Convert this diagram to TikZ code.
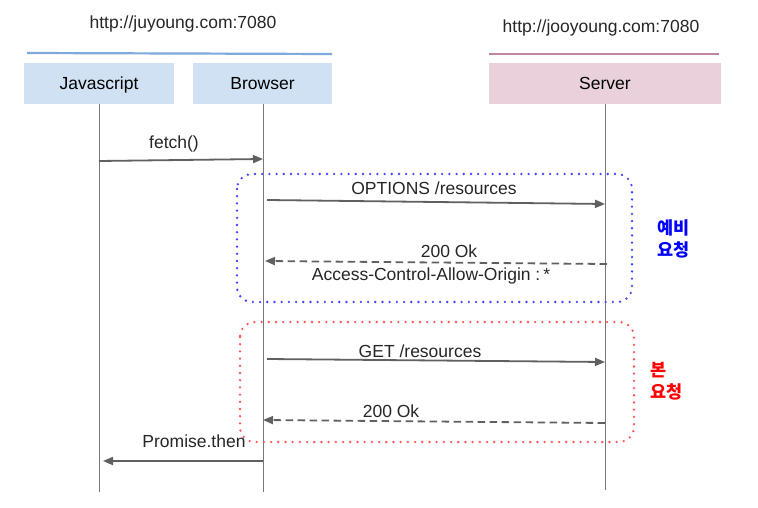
\documentclass[tikz,border=0pt]{standalone}
\usepackage{fontspec}
\setmainfont{Liberation Sans}
\newfontfamily\krfont{Noto Sans CJK KR}
\usetikzlibrary{arrows.meta}
\definecolor{hdrblue}{HTML}{CFE1F2}
\definecolor{hdrpink}{HTML}{E9D0DB}
\definecolor{lineblue}{HTML}{7EA9DC}
\definecolor{linepink}{HTML}{C183A6}
\definecolor{arr}{HTML}{606060}
\definecolor{dotblue}{HTML}{4444FF}
\definecolor{dotred}{HTML}{FF5555}
\tikzset{
  hdr/.style={inner sep=0pt, minimum height=41pt, text height=12.6pt, text depth=0pt, font=\fontsize{17.5}{20}\selectfont},
  lbl/.style={inner sep=0pt, anchor=base, font=\fontsize{17.5}{20}\selectfont, text=black!85},
  life/.style={draw=arr!85, line width=1pt},
  msg/.style={draw=arr, line width=1.8pt, -{Triangle[length=10pt,width=8pt]}},
  reply/.style={msg, dash pattern=on 7.5pt off 4.5pt},
  grp/.style={line width=2.6pt, rounded corners=15pt, dash pattern=on 0pt off 7.2pt, line cap=round},
  kr/.style={inner sep=0pt, anchor=west, align=left, font=\krfont\bfseries\fontsize{17.5}{22}\selectfont}
}
\begin{document}
\begin{tikzpicture}[x=1pt,y=-1pt]
\useasboundingbox (0,0) rectangle (758,508);
% origin labels and lines
\node[lbl] (o1) at (183,29) {http://juyoung.com:7080};
\node[lbl] (o2) at (601,33) {http://jooyoung.com:7080};
\coordinate (b1) at (27,53);
\coordinate (b2) at (332,54);
\draw[draw=lineblue, line width=2.2pt] (b1) -- (b2);
\coordinate (p1) at (489,54);
\coordinate (p2) at (719,54);
\draw[draw=linepink, line width=2.2pt] (p1) -- (p2);
% headers
\node[hdr, fill=hdrblue, minimum width=150pt] (js) at (99,83.5) {Javascript};
\node[hdr, fill=hdrblue, minimum width=139pt] (br) at (262.5,83.5) {Browser};
\node[hdr, fill=hdrpink, minimum width=232pt] (sv) at (605,83.5) {Server};
% lifelines
\coordinate (jsend) at (99,492);
\coordinate (brend) at (263,492);
\coordinate (svend) at (605,490);
\draw[life] (js.south) -- (jsend);
\draw[life] ([xshift=0.5pt]br.south) -- (brend);
\draw[life] (sv.south) -- (svend);
% groups
\draw[grp, draw=dotblue] (237,174) rectangle (632,302);
\draw[grp, draw=dotred] (240,322) rectangle (634,442);
% messages
\coordinate (m1a) at (99,161); \coordinate (m1b) at (263,159);
\draw[msg] (m1a) -- (m1b);
\node[lbl] (t1) at (174,149) {fetch()};
\coordinate (m2a) at (267,200); \coordinate (m2b) at (605,204);
\draw[msg] (m2a) -- (m2b);
\node[lbl] (t2) at (434,194) {OPTIONS /resources};
\coordinate (m3a) at (607,264); \coordinate (m3b) at (265,261);
\draw[reply] (m3a) -- (m3b);
\node[lbl] (t3) at (449,257) {200 Ok};
\node[lbl] (t3b) at (431,280) {Access-Control-Allow-Origin :\,*};
\coordinate (m4a) at (267,359); \coordinate (m4b) at (605,362);
\draw[msg] (m4a) -- (m4b);
\node[lbl] (t4) at (420,357) {GET /resources};
\coordinate (m5a) at (605,423); \coordinate (m5b) at (263,420);
\draw[reply] (m5a) -- (m5b);
\node[lbl] (t5) at (391,417) {200 Ok};
\coordinate (m6a) at (263,461); \coordinate (m6b) at (103,461);
\draw[msg] (m6a) -- (m6b);
\node[lbl] (t6) at (194,447) {Promise.then};
% group labels
\node[kr, text=blue] (g1) at (657,239) {예비\\요청};
\node[kr, text=red] (g2) at (650,381) {본\\요청};
\end{tikzpicture}
\end{document}
